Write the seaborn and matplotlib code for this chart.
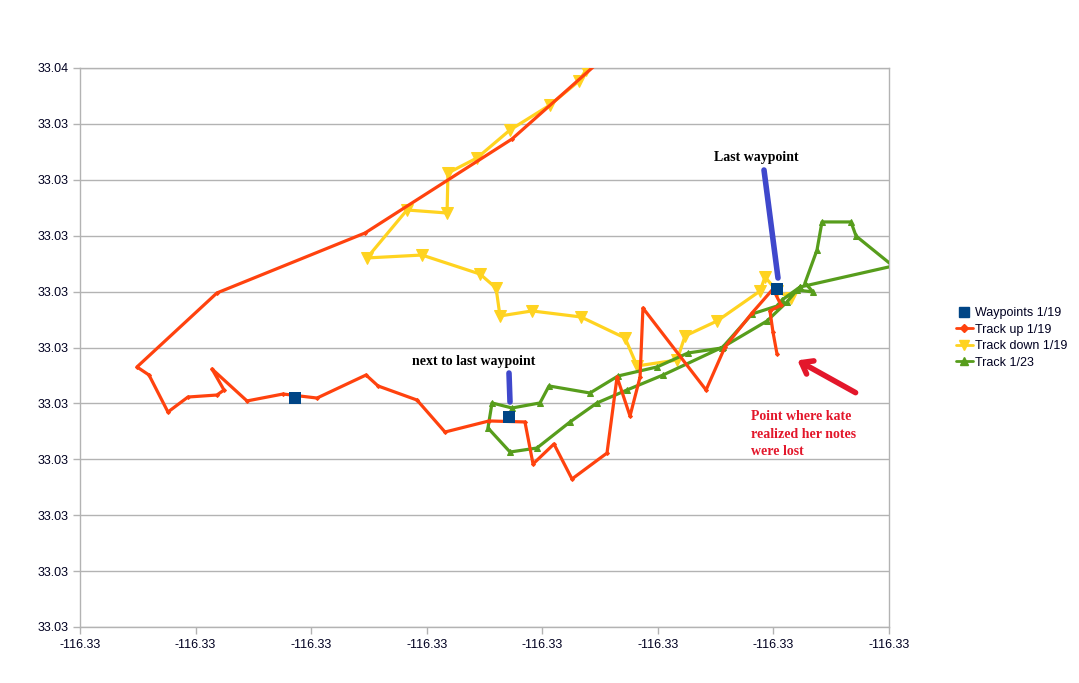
import matplotlib
matplotlib.use("Agg")
import matplotlib.pyplot as plt
from matplotlib.ticker import FixedLocator, FormatStrFormatter
from matplotlib.lines import Line2D
import seaborn as sns
import pandas as pd

# ---------------- data (longitude / latitude) ----------------
waypoints_lon = [-116.332140, -116.330288, -116.327969]
waypoints_lat = [33.032248, 33.032078, 33.033223]

up_lon = [-116.329501, -116.330262, -116.331534, -116.332815, -116.333507, -116.333403,
          -116.333239, -116.333066, -116.332815, -116.332754, -116.332858, -116.332555,
          -116.332243, -116.331949, -116.331525, -116.331421, -116.331084, -116.330842,
          -116.330461, -116.330150, -116.330080, -116.329899, -116.329743, -116.329440,
          -116.329353, -116.329241, -116.329154, -116.329129, -116.328583, -116.328419,
          -116.328185, -116.328004, -116.327934, -116.328030, -116.328004, -116.327969]
up_lat = [33.035263, 33.034565, 33.033724, 33.033188, 33.032526, 33.032454,
          33.032123, 33.032257, 33.032275, 33.032320, 33.032508, 33.032222,
          33.032284, 33.032248, 33.032454, 33.032356, 33.032230, 33.031944,
          33.032043, 33.032034, 33.031658, 33.031837, 33.031524, 33.031756,
          33.032436, 33.032087, 33.032436, 33.033053, 33.032320, 33.032705,
          33.033009, 33.033223, 33.033080, 33.033027, 33.032839, 33.032642]

down_lon = [-116.329622, -116.329682, -116.329933, -116.330279, -116.330565, -116.330816,
            -116.330824, -116.331171, -116.331517, -116.331041, -116.330539, -116.330400,
            -116.330366, -116.330089, -116.329665, -116.329284, -116.329180, -116.328834,
            -116.328765, -116.328488, -116.328116, -116.328073, -116.327969, -116.327848]
down_lat = [33.035182, 33.035084, 33.034869, 33.034646, 33.034395, 33.034261,
            33.033903, 33.033930, 33.033501, 33.033527, 33.033357, 33.033232,
            33.032982, 33.033027, 33.032973, 33.032785, 33.032535, 33.032588,
            33.032803, 33.032937, 33.033205, 33.033331, 33.033205, 33.033143]

t23_lon = [-116.327770, -116.327926, -116.327969, -116.328185, -116.328445, -116.328739,
           -116.329007, -116.329345, -116.329587, -116.329942, -116.330020, -116.330262,
           -116.330435, -116.330470, -116.330279, -116.330046, -116.329760, -116.329527,
           -116.329267, -116.328955, -116.328436, -116.328056, -116.327883, -116.327796,
           -116.327657, -116.327727, -116.327623, -116.327580, -116.327329, -116.327285,
           -116.326965, -116.327770]
t23_lat = [33.033241, 33.033125, 33.033071, 33.033000, 33.032696, 33.032651,
           33.032526, 33.032445, 33.032293, 33.032356, 33.032204, 33.032159,
           33.032204, 33.031980, 33.031765, 33.031801, 33.032034, 33.032204,
           33.032320, 33.032454, 33.032705, 33.032937, 33.033107, 33.033214,
           33.033197, 33.033277, 33.033572, 33.033823, 33.033823, 33.033697,
           33.033429, 33.033241]

x_ticks = [-116.334, -116.333, -116.332, -116.331, -116.330, -116.329, -116.328, -116.327]
y_ticks = [33.0302, 33.0307, 33.0312, 33.0317, 33.0322, 33.0327,
           33.0332, 33.0337, 33.0342, 33.0347, 33.0352]

series_names = ["Waypoints 1/19", "Track up 1/19", "Track down 1/19", "Track 1/23"]
colors = ["#004586", "#FF420E", "#FFD320", "#579D1C"]

# ---------------- figure ----------------
sns.set_theme(style="white")
plt.rcParams["font.family"] = ["Liberation Sans", "DejaVu Sans"]

W, H = 1079, 683
fig = plt.figure(figsize=(W / 100, H / 100), dpi=100)
fig.patch.set_facecolor("white")
ax = fig.add_axes([80 / W, 1 - 627 / H, (889 - 80) / W, (627 - 68) / H])
ax.set_facecolor("white")

df_down = pd.DataFrame({"lon": down_lon, "lat": down_lat})
df_up = pd.DataFrame({"lon": up_lon, "lat": up_lat})
df_23 = pd.DataFrame({"lon": t23_lon, "lat": t23_lat})
df_wp = pd.DataFrame({"lon": waypoints_lon, "lat": waypoints_lat})

sns.lineplot(data=df_down, x="lon", y="lat", sort=False, estimator=None, ax=ax,
             color=colors[2], lw=2.3, marker="v", markersize=8,
             markeredgecolor=colors[2], zorder=3)
sns.lineplot(data=df_23, x="lon", y="lat", sort=False, estimator=None, ax=ax,
             color=colors[3], lw=2.3, marker="^", markersize=4,
             markeredgecolor=colors[3], zorder=4)
sns.lineplot(data=df_up, x="lon", y="lat", sort=False, estimator=None, ax=ax,
             color=colors[1], lw=2.3, marker="D", markersize=2,
             markeredgecolor=colors[1], zorder=5)
sns.scatterplot(data=df_wp, x="lon", y="lat", ax=ax, color=colors[0], marker="s",
                s=75, edgecolor=colors[0], linewidth=0, zorder=6)

ax.set_xlim(x_ticks[0], x_ticks[-1])
ax.set_ylim(y_ticks[0], y_ticks[-1])
ax.xaxis.set_major_locator(FixedLocator(x_ticks))
ax.yaxis.set_major_locator(FixedLocator(y_ticks))
ax.xaxis.set_major_formatter(FormatStrFormatter("%.2f"))
ax.yaxis.set_major_formatter(FormatStrFormatter("%.2f"))
ax.set_xlabel("")
ax.set_ylabel("")
ax.grid(axis="y", color="#B3B3B3", lw=1)
ax.grid(axis="x", visible=False)
for s in ax.spines.values():
    s.set_color("#B3B3B3")
    s.set_linewidth(1)
ax.tick_params(axis="both", which="major", length=5, width=1, color="#B3B3B3",
               labelsize=9, labelcolor="#000020", direction="out", pad=3)
ax.tick_params(axis="x", bottom=True, pad=4)
ax.tick_params(axis="y", left=True)

# legend
handles = [
    Line2D([], [], ls="none", marker="s", color=colors[0], markersize=7),
    Line2D([], [], color=colors[1], lw=2, marker="D", markersize=4),
    Line2D([], [], color=colors[2], lw=2, marker="v", markersize=7),
    Line2D([], [], color=colors[3], lw=2, marker="^", markersize=6),
]
fig.legend(handles, series_names, loc="center left",
           bbox_to_anchor=(945 / W, 1 - 338 / H), frameon=False, fontsize=9,
           handlelength=1.3, handletextpad=0.2, labelspacing=0.35,
           labelcolor="#000020")

# annotations (figure fractions)
def fp(x, y):
    return (x / W, 1 - y / H)

serif = ["Liberation Serif", "DejaVu Serif"]
fig.text(*fp(756, 158), "Last waypoint", family=serif, weight="bold", fontsize=10,
         ha="center", va="center", color="#000000")
fig.text(*fp(474, 362), "next to last waypoint", family=serif, weight="bold",
         fontsize=10, ha="center", va="center", color="#000000")
fig.text(*fp(751, 434), "Point where kate\nrealized her notes\nwere lost", family=serif,
         weight="bold", fontsize=10, ha="left", va="center", color="#E3172B",
         linespacing=1.45)

blue = "#3F48CC"
fig.add_artist(Line2D([764 / W, 778 / W], [1 - 170 / H, 1 - 278 / H],
                      color=blue, lw=4, solid_capstyle="round"))
fig.add_artist(Line2D([509 / W, 510 / W], [1 - 373 / H, 1 - 402 / H],
                      color=blue, lw=4, solid_capstyle="round"))
ax.annotate("", xy=fp(795, 359), xycoords="figure fraction",
            xytext=fp(858, 394), textcoords="figure fraction",
            arrowprops=dict(arrowstyle="->,head_length=0.6,head_width=0.45",
                            color="#E3172B", lw=4))

fig.savefig("out.png", dpi=100, facecolor="white")
